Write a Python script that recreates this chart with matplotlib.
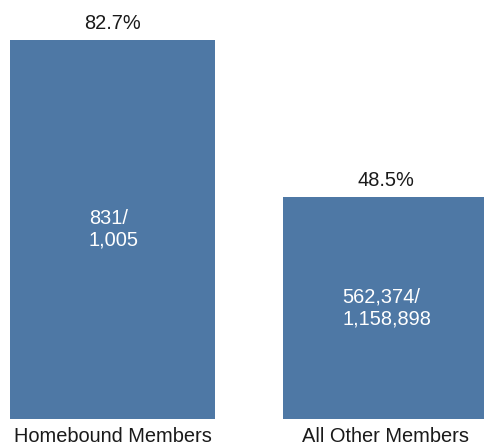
import matplotlib.pyplot as plt

# ----- data -----
groups = ['Homebound Members', 'All Other Members']
rates = [82.7, 48.5]
counts = ['831/\n1,005', '562,374/\n1,158,898']

bar_color = '#4e78a5'

plt.rcParams['font.family'] = ['Liberation Sans', 'DejaVu Sans']

fig = plt.figure(figsize=(4.84, 4.47), dpi=100)
ax = fig.add_axes([0, 0.0626, 1, 0.9374])

x = [0, 1]
bars = ax.bar(x, rates, width=0.751, color=bar_color, edgecolor='none')

ax.set_xlim(-0.412, 1.361)
ax.set_ylim(0, 91.43)

for xi, r, c in zip(x, rates, counts):
    # percentage above the bar
    ax.annotate(f'{r}%', (xi, r), xytext=(0, 12), textcoords='offset points',
                ha='center', va='center', fontsize=14.4, color='#1a1a1a')
    # count inside the bar
    ax.text(xi + 0.005, r / 2, c, ha='center', va='center', multialignment='left',
            fontsize=14.4, color='white', linespacing=1.15)

ax.set_xticks(x)
ax.set_xticklabels(groups, fontsize=14.4, color='#1a1a1a')
ax.tick_params(axis='x', length=0, pad=5.5)
ax.set_yticks([])
for s in ax.spines.values():
    s.set_visible(False)

fig.savefig('out.png', dpi=100)
